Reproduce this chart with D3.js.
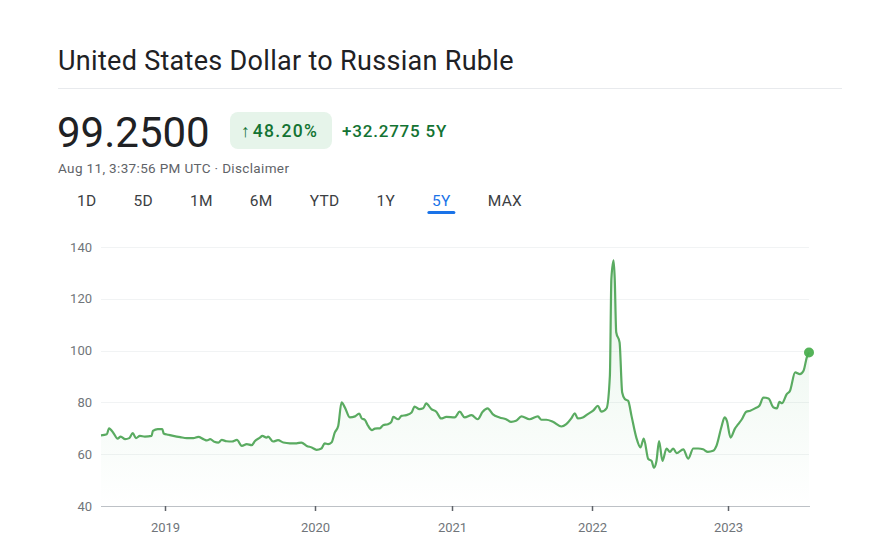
<!DOCTYPE html>
<html>
<head>
<meta charset="utf-8">
<script src="https://cdn.jsdelivr.net/npm/d3@7"></script>
<style>
  html, body { margin: 0; padding: 0; background: #ffffff; }
  svg { display: block; font-family: Roboto, "Noto Sans", Arial, sans-serif; }
</style>
</head>
<body>
<svg id="chart" width="872" height="554"></svg>
<script>
// ---- Data ----
const title = "United States Dollar to Russian Ruble";
const price = "99.2500";
const changeArrow = "↑";
const changePct = "48.20%";
const changeAbs = "+32.2775 5Y";
const timestamp = "Aug 11, 3:37:56 PM UTC · Disclaimer";
const rangeTabs = ["1D", "5D", "1M", "6M", "YTD", "1Y", "5Y", "MAX"];
const activeTab = "5Y";
const yTicks = [40, 60, 80, 100, 120, 140];
const xTickYears = ["2019", "2020", "2021", "2022", "2023"];

const dates = [
  "2018-08-11","2018-08-24","2018-08-29","2018-09-08","2018-09-17","2018-09-24","2018-10-04","2018-10-13","2018-10-21","2018-10-28",
  "2018-11-06","2018-11-17","2018-12-02","2018-12-05","2018-12-16","2018-12-26","2018-12-29","2019-01-09","2019-01-21","2019-02-07",
  "2019-02-23","2019-03-11","2019-03-23","2019-04-05","2019-04-13","2019-04-21","2019-05-01","2019-05-11","2019-05-19","2019-05-31",
  "2019-06-13","2019-06-25","2019-07-07","2019-07-19","2019-07-31","2019-08-08","2019-08-20","2019-08-26","2019-09-05","2019-09-09",
  "2019-09-21","2019-10-03","2019-10-16","2019-11-01","2019-11-17","2019-11-29","2019-12-12","2019-12-24","2020-01-05","2020-01-18",
  "2020-01-27","2020-02-05","2020-02-14","2020-02-23","2020-03-03","2020-03-12","2020-03-21","2020-04-03","2020-04-17","2020-04-28",
  "2020-05-05","2020-05-13","2020-05-22","2020-06-01","2020-06-09","2020-06-22","2020-07-01","2020-07-14","2020-07-23","2020-07-28",
  "2020-08-10","2020-08-19","2020-09-01","2020-09-15","2020-09-23","2020-10-06","2020-10-16","2020-10-24","2020-11-07","2020-11-20",
  "2020-12-03","2020-12-17","2021-01-08","2021-01-21","2021-02-03","2021-02-21","2021-03-09","2021-03-22","2021-04-04","2021-04-17",
  "2021-05-05","2021-05-22","2021-06-04","2021-06-17","2021-07-01","2021-07-22","2021-08-13","2021-08-22","2021-09-04","2021-09-21",
  "2021-10-13","2021-10-26","2021-11-08","2021-11-17","2021-11-25","2021-12-08","2021-12-21","2022-01-04","2022-01-17","2022-01-26",
  "2022-02-09","2022-02-18","2022-02-22","2022-02-28","2022-03-03","2022-03-07","2022-03-16","2022-03-23","2022-03-30","2022-04-08",
  "2022-04-17","2022-04-30","2022-05-11","2022-05-20","2022-06-01","2022-06-10","2022-06-16","2022-06-23","2022-06-30","2022-07-09",
  "2022-07-20","2022-07-29","2022-08-07","2022-08-16","2022-09-03","2022-09-16","2022-09-30","2022-10-13","2022-10-26","2022-11-08",
  "2022-11-22","2022-12-01","2022-12-14","2022-12-23","2022-12-29","2023-01-08","2023-01-20","2023-01-29","2023-02-08","2023-02-20",
  "2023-03-03","2023-03-16","2023-03-28","2023-04-08","2023-04-22","2023-05-06","2023-05-15","2023-05-22","2023-05-29","2023-06-11",
  "2023-06-20","2023-07-04","2023-07-17","2023-07-27","2023-08-05","2023-08-11"
];
const rates = [
  67.3,67.7,70.0,68.1,66.0,66.8,65.8,66.2,68.1,66.2,
  67.1,66.8,67.1,69.0,69.7,69.7,68.0,67.5,67.1,66.6,
  66.2,66.2,66.7,65.8,65.3,65.8,64.8,64.5,65.5,65.0,
  64.9,65.5,63.2,63.9,63.5,65.1,66.4,67.1,66.4,66.8,
  64.9,65.4,64.5,64.2,64.2,64.5,63.2,62.6,61.7,62.2,
  64.2,63.9,64.5,68.4,70.9,80.0,78.0,74.2,74.6,75.7,
  73.8,73.3,70.9,69.3,69.9,70.0,71.2,71.6,72.5,74.4,
  73.5,74.8,75.1,76.1,78.4,77.4,77.7,79.6,77.4,76.4,
  73.8,74.4,74.2,76.4,74.2,75.1,73.5,76.4,77.7,75.5,
  74.2,73.5,72.5,72.9,74.6,73.5,74.6,73.3,73.3,72.5,
  70.7,71.6,73.8,75.8,73.8,74.2,75.5,76.8,78.7,76.4,
  77.7,90.3,127.7,134.8,127.7,107.1,103.2,83.8,81.3,80.6,
  74.8,66.4,62.6,66.0,58.1,57.4,54.8,57.4,65.1,57.4,
  62.2,60.9,62.2,60.4,61.9,58.3,62.2,62.2,61.9,60.9,
  61.3,63.2,70.3,74.2,72.9,66.4,69.9,71.6,73.5,76.4,
  76.8,77.7,78.7,81.9,81.5,78.0,77.7,80.2,79.7,83.2,
  84.5,91.6,90.9,92.2,97.4,99.25
];

// ---- Setup ----
const parse = d3.timeParse("%Y-%m-%d");
const series = dates.map((d, i) => ({ date: parse(d), value: rates[i] }));
const svg = d3.select("#chart");

const textDark = "#202124";
const textGray = "#5f6368";
const green = "#137333";
const lineGreen = "#5aab61";

// Header
svg.append("text").attr("x", 58).attr("y", 70)
  .attr("font-size", 27).attr("letter-spacing", 0.3).attr("fill", textDark).text(title);
svg.append("line").attr("x1", 58).attr("x2", 842).attr("y1", 88.5).attr("y2", 88.5)
  .attr("stroke", "#e8eaed").attr("stroke-width", 1);

svg.append("text").attr("x", 57).attr("y", 147)
  .attr("font-size", 42).attr("fill", textDark).text(price);

svg.append("rect").attr("x", 230).attr("y", 112).attr("width", 102).attr("height", 37)
  .attr("rx", 8).attr("fill", "#e6f4ea");
const badge = svg.append("text").attr("x", 241).attr("y", 137)
  .attr("font-size", 17.5).attr("font-weight", 500).attr("fill", green);
badge.append("tspan").text(changeArrow);
badge.append("tspan").attr("dx", 3).attr("letter-spacing", 1.3).text(changePct);
svg.append("text").attr("x", 342).attr("y", 137)
  .attr("font-size", 17).attr("font-weight", 500).attr("letter-spacing", 0.8)
  .attr("fill", green).text(changeAbs);

svg.append("text").attr("x", 58).attr("y", 173)
  .attr("font-size", 13.5).attr("letter-spacing", 0.35).attr("fill", textGray).text(timestamp);

// Tabs: laid out left to right with a constant gap
const tabsG = svg.append("g");
let cursor = 77;
const tabGap = 37;
const tabCenters = {};
rangeTabs.forEach(t => {
  const el = tabsG.append("text").attr("x", cursor).attr("y", 206)
    .attr("font-size", 15.5).attr("letter-spacing", 0.3)
    .attr("fill", t === activeTab ? "#1a73e8" : "#3c4043").text(t);
  const w = el.node().getComputedTextLength();
  tabCenters[t] = cursor + w / 2;
  cursor += w + tabGap;
});
svg.append("rect").attr("x", tabCenters[activeTab] - 14).attr("y", 211).attr("width", 28).attr("height", 3)
  .attr("rx", 1.5).attr("fill", "#1a73e8");

// ---- Scales ----
const xScale = d3.scaleTime()
  .domain([parse("2018-08-11"), parse("2019-01-01"), parse("2020-01-01"), parse("2021-01-01"),
           parse("2022-01-01"), parse("2023-01-01"), parse("2023-08-11")])
  .range([101, 165, 315, 452, 592, 728, 809]);
const yScale = d3.scaleLinear().domain([40, 140]).range([506, 247]);

// Grid
svg.append("g").selectAll("line").data(yTicks.filter(t => t > 40)).join("line")
  .attr("x1", 101).attr("x2", 809)
  .attr("y1", d => Math.round(yScale(d)) + 0.5).attr("y2", d => Math.round(yScale(d)) + 0.5)
  .attr("stroke", "#f1f3f4").attr("stroke-width", 1);

// Y axis labels
const yAxis = svg.append("g").attr("transform", "translate(101,0)")
  .call(d3.axisLeft(yScale).tickValues(yTicks).tickSize(0).tickPadding(9));
yAxis.select(".domain").remove();
yAxis.selectAll("text").attr("font-size", 13).attr("fill", "#70757a")
  .attr("font-family", "Roboto, 'Noto Sans', sans-serif");

// Area gradient
const defs = svg.append("defs");
const grad = defs.append("linearGradient").attr("id", "areaGrad")
  .attr("x1", 0).attr("x2", 0).attr("y1", 0).attr("y2", 1);
grad.append("stop").attr("offset", "0%").attr("stop-color", "#34a853").attr("stop-opacity", 0.12);
grad.append("stop").attr("offset", "100%").attr("stop-color", "#34a853").attr("stop-opacity", 0.0);

const area = d3.area()
  .x(d => xScale(d.date)).y0(yScale(40)).y1(d => yScale(d.value))
  .curve(d3.curveMonotoneX);
svg.append("path").datum(series).attr("d", area).attr("fill", "url(#areaGrad)");

// X axis
const xAxis = svg.append("g").attr("transform", `translate(0,${yScale(40)})`)
  .call(d3.axisBottom(xScale)
    .tickValues(xTickYears.map(y => parse(y + "-01-01")))
    .tickFormat(d3.timeFormat("%Y"))
    .tickSize(5).tickPadding(12)
    .tickSizeOuter(0));
xAxis.select(".domain").attr("stroke", "#bdc1c6").attr("d", "M101,0.5H810");
xAxis.selectAll(".tick line").attr("stroke", "#5f6368").attr("stroke-width", 1.5);
xAxis.selectAll("text").attr("font-size", 13).attr("fill", "#70757a")
  .attr("font-family", "Roboto, 'Noto Sans', sans-serif");

// Line
const line = d3.line().x(d => xScale(d.date)).y(d => yScale(d.value)).curve(d3.curveMonotoneX);
svg.append("path").datum(series).attr("d", line)
  .attr("fill", "none").attr("stroke", lineGreen).attr("stroke-width", 2.2)
  .attr("stroke-linejoin", "round");

// End dot
const last = series[series.length - 1];
svg.append("circle").attr("cx", xScale(last.date)).attr("cy", yScale(last.value))
  .attr("r", 5).attr("fill", "#4caf50").attr("fill-opacity", 0.95);
</script>
</body>
</html>
